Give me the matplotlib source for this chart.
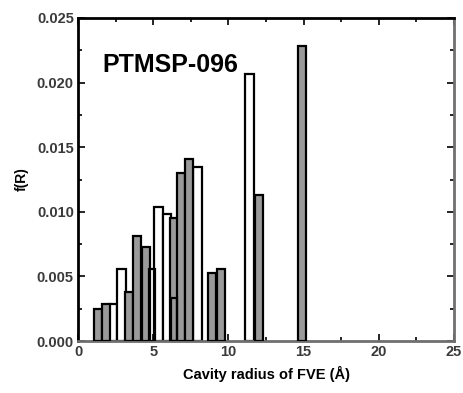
import matplotlib
matplotlib.use("Agg")
import matplotlib.pyplot as plt
from matplotlib.ticker import MultipleLocator, FormatStrFormatter

# Cavity radius distribution of free volume elements (FVE)
shaded_r = [1.35, 1.85, 3.4, 3.9, 4.5, 6.4, 6.85, 7.4, 8.9, 9.5, 12.05, 14.9]
shaded_f = [0.0025, 0.0029, 0.0038, 0.0081, 0.0073, 0.0095, 0.0130, 0.0141,
            0.0053, 0.0056, 0.0113, 0.0228]
open_r = [2.35, 2.9, 5.35, 5.9, 7.95, 11.4]
open_f = [0.0029, 0.0056, 0.0104, 0.0098, 0.0135, 0.0207]
inner_r = [4.95, 6.4]
inner_f = [0.0056, 0.0033]

x_ticks = [0, 5, 10, 15, 20, 25]
y_ticks = [0.000, 0.005, 0.010, 0.015, 0.020, 0.025]

plt.rcParams['font.family'] = ['Liberation Sans', 'DejaVu Sans']

fig = plt.figure(figsize=(4.63, 3.93), dpi=100)
ax = fig.add_axes([0.1685, 0.1323, 0.8121, 0.8219])

w = 0.55
ax.bar(open_r, open_f, width=w, color='white', edgecolor='black', linewidth=1.6, zorder=2)
ax.bar(shaded_r, shaded_f, width=w, color='#9a9a9a', edgecolor='black', linewidth=1.6, zorder=3)
ax.bar(inner_r, inner_f, width=0.4, color='none', edgecolor='black', linewidth=1.6, zorder=4)

ax.set_xlim(0, 25)
ax.set_ylim(0, 0.025)
ax.set_xticks(x_ticks)
ax.set_yticks(y_ticks)
ax.yaxis.set_major_formatter(FormatStrFormatter('%.3f'))
ax.xaxis.set_minor_locator(MultipleLocator(2.5))
ax.yaxis.set_minor_locator(MultipleLocator(0.0025))
ax.tick_params(which='both', direction='in', top=True, right=True, width=1.2)
ax.tick_params(which='major', length=5, labelsize=10.5, pad=3)
ax.tick_params(which='minor', length=3)
for lab in ax.get_xticklabels() + ax.get_yticklabels():
    lab.set_fontweight('bold')
    lab.set_color('#3a3a3a')

ax.spines['left'].set_linewidth(2)
ax.spines['top'].set_linewidth(2)
ax.spines['left'].set_color('black')
ax.spines['top'].set_color('black')
ax.spines['bottom'].set_linewidth(2)
ax.spines['right'].set_linewidth(2)
ax.spines['bottom'].set_color('#6f6f6f')
ax.spines['right'].set_color('#6f6f6f')

ax.set_xlabel('Cavity radius of FVE (Å)', fontsize=10.5, fontweight='bold', labelpad=5)
ax.set_ylabel('f(R)', fontsize=10, fontweight='bold', labelpad=6)
ax.text(0.065, 0.855, 'PTMSP-096', transform=ax.transAxes, fontsize=18,
        fontweight='bold', ha='left', va='center')

fig.savefig('out.png', dpi=100)
